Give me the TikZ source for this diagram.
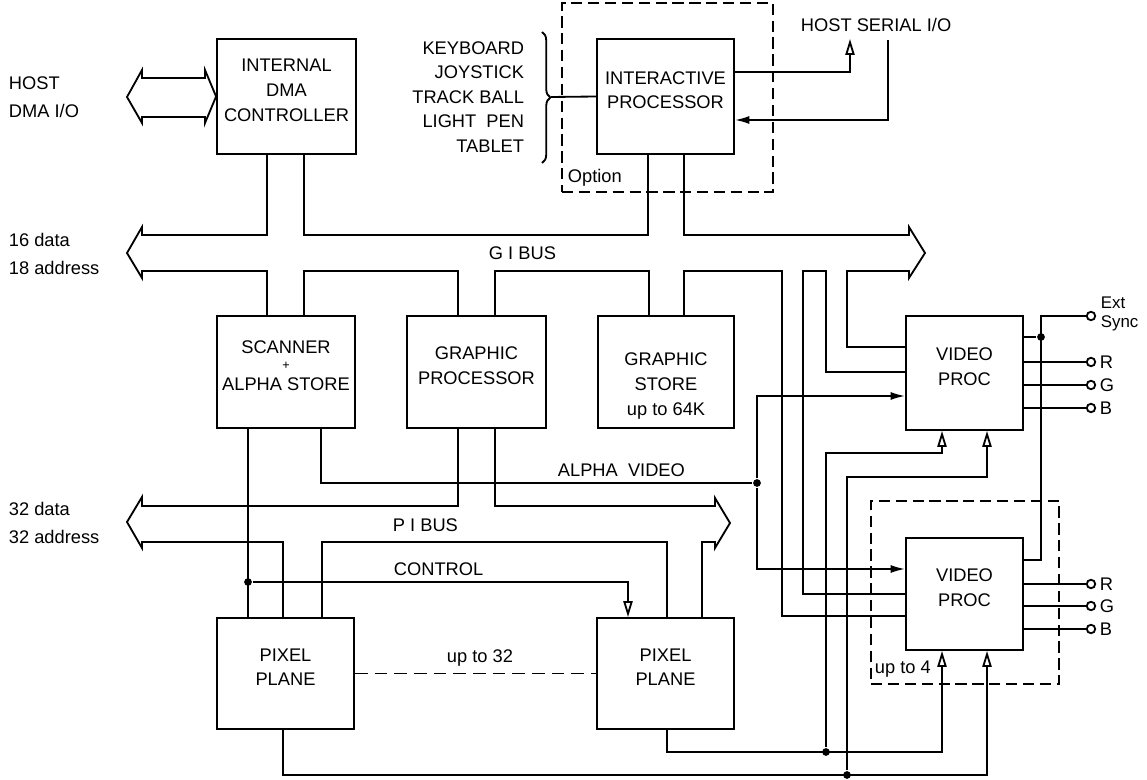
\documentclass[tikz,border=0pt]{standalone}
\usepackage{fontspec}
\setmainfont{Liberation Sans}
\usetikzlibrary{arrows.meta,fit,decorations.pathreplacing}
\begin{document}
\begin{tikzpicture}[x=0.025cm,y=-0.025cm, line width=1.3pt,
  txt/.style={inner sep=0pt, font=\fontsize{13}{17.5}\selectfont},
  box/.style={draw, inner sep=0pt, align=center, txt},
  lbl/.style={txt, align=center},
  dbox/.style={draw, dash pattern=on 8pt off 4pt, inner sep=0pt},
  arr/.style={-{Latex[length=3.6mm,width=2mm]}},
  oarr/.style={-{Triangle[open,length=4mm,width=2.3mm]}},
  dot/.style={circle, fill, inner sep=0pt, minimum size=5.5pt},
  term/.style={circle, draw, inner sep=0pt, minimum size=6pt, fill=white},
  bus/.style={line join=miter}]
\useasboundingbox (0,0) rectangle (1147,780);

% boxes
\node[box, fit={(217,39) (356,154)}] (dma) {INTERNAL\\DMA\\CONTROLLER};
\node[box, fit={(597,39) (734,154)}] (ip) {INTERACTIVE\\PROCESSOR};
\node[box, fit={(217,316) (355,428)}] (scan) {SCANNER\\[-6pt]{\small +}\\[-3pt]ALPHA STORE};
\node[box, fit={(407,316) (546,428)}] (gp) {GRAPHIC\\PROCESSOR};
\node[box, fit={(598,316) (734,428)}] (gs) {};
\node[lbl] (gstxt) at (666,386) {GRAPHIC\\STORE\\up to 64K};
\node[box, fit={(906,316) (1023,430)}] (vp1) {VIDEO\\PROC};
\node[box, fit={(906,538) (1023,650)}] (vp2) {VIDEO\\PROC};
\node[box, fit={(217,618) (354,729)}] (pp1) {PIXEL\\PLANE};
\node[box, fit={(597,618) (734,729)}] (pp2) {PIXEL\\PLANE};

% dashed option boxes
\node[dbox, fit={(562,3) (773,192)}] (opt) {};
\node[txt, anchor=west] (optl) at (567,178) {Option};
\node[dbox, fit={(871,501) (1059,684)}] (up4) {};
\node[txt, anchor=west] (up4l) at (874,669) {up to 4};

% side texts
\node[txt, anchor=west, align=left, font=\fontsize{13}{20}\selectfont] (hostdma) at (8,97) {HOST\\DMA I/O};
\node[txt, anchor=west, align=left, font=\fontsize{13}{20}\selectfont] (gil) at (8,254) {16 data\\18 address};
\node[txt, anchor=west, align=left, font=\fontsize{13}{20}\selectfont] (pil) at (8,523) {32 data\\32 address};
\node[txt, anchor=east, align=right] (kb) at (525,97) {KEYBOARD\\JOYSTICK\\TRACK BALL\\LIGHT~~PEN\\TABLET};
\node[txt, anchor=west] (hsio) at (800,25) {HOST SERIAL I/O};
\node[txt, anchor=west] (gibus) at (488,253) {G I BUS};
\node[txt, anchor=west] (pibus) at (392,525) {P I BUS};
\node[txt, anchor=west] (ctl) at (393,569) {CONTROL};
\node[txt, anchor=west] (av) at (557,470) {ALPHA~~VIDEO};
\node[txt] (up32) at (480,658) {up to 32};

% host DMA double arrow
\draw[bus] (142,78) -- (205,78) -- (205,70) -- (dma.west) -- (205,123) -- (205,117)
  -- (142,117) -- (142,123) -- (127,97) -- (142,70) -- cycle;

% GI bus
\draw[bus] (dma.south -| 267,0) -- (267,235) -- (142,235) -- (142,227) -- (127,253)
  -- (142,278) -- (142,271) -- (267,271) -- (scan.north -| 267,0);
\draw[bus] (dma.south -| 304,0) -- (304,235) -- (648,235) -- (ip.south -| 648,0);
\draw[bus] (ip.south -| 684,0) -- (684,235) -- (909,235) -- (909,227) -- (925,253)
  -- (909,278) -- (909,271) -- (847,271) -- (847,347) -- (vp1.west |- 0,347);
\draw[bus] (scan.north -| 304,0) -- (304,271) -- (458,271) -- (gp.north -| 458,0);
\draw[bus] (gp.north -| 495,0) -- (495,271) -- (649,271) -- (gs.north -| 649,0);
\draw[bus] (gs.north -| 684,0) -- (684,271) -- (782,271) -- (782,616) -- (vp2.west |- 0,616);
\draw[bus] (vp2.west |- 0,594) -- (803,594) -- (803,271) -- (826,271) -- (826,372) -- (vp1.west |- 0,372);

% PI bus
\draw[bus] (gp.south -| 458,0) -- (458,506) -- (142,506) -- (142,497) -- (127,522)
  -- (142,548) -- (142,542) -- (283,542) -- (pp1.north -| 283,0);
\draw[bus] (pp1.north -| 322,0) -- (322,542) -- (667,542) -- (pp2.north -| 667,0);
\draw[bus] (gp.south -| 495,0) -- (495,506) -- (715,506) -- (715,498) -- (730,523)
  -- (715,548) -- (715,542) -- (702,542) -- (pp2.north -| 702,0);

% control
\draw (scan.south -| 248,0) -- (pp1.north -| 248,0);
\node[dot] (jc) at (248,582) {};
\draw[oarr] (jc) -- (628,582) -- (pp2.north -| 628,0);

% pixel plane chain
\draw[dash pattern=on 9pt off 5pt] (pp1.east) -- (pp2.west);

% alpha video
\node[dot] (ja) at (757,483) {};
\draw (scan.south -| 321,0) -- (321,483) -- (ja);
\draw[arr] (ja) -- (757,396) -- (vp1.west |- 0,396);
\draw[arr] (ja) -- (757,569) -- (vp2.west |- 0,569);

% pixel plane outputs
\node[dot] (jb1) at (826,752) {};
\node[dot] (jb2) at (847,775) {};
\draw[oarr] (pp2.south -| 667,0) -- (667,752) -- (942,752) -- (vp2.south -| 942,0);
\draw[oarr] (jb1) -- (826,453) -- (942,453) -- (vp1.south -| 942,0);
\draw[oarr] (pp1.south -| 283,0) -- (283,775) -- (987,775) -- (vp2.south -| 987,0);
\draw[oarr] (jb2) -- (847,477) -- (987,477) -- (vp1.south -| 987,0);

% interactive processor links
\draw[decorate, decoration={brace, amplitude=6pt}] (542,32) -- (542,163);
\coordinate (bt) at (551,97);
\draw (bt) -- (ip.west);
\draw[oarr] (ip.east |- 0,72) -- (850,72) -- (850,39);
\coordinate (hsin) at (888,40);
\draw[arr] (hsin) -- (888,120) -- (ip.east |- 0,120);

% outputs
\node[term] (tes) at (1091,316) {};
\node[term] (tr1) at (1091,362) {};
\node[term] (tg1) at (1091,385) {};
\node[term] (tb1) at (1091,408) {};
\node[term] (tr2) at (1091,584) {};
\node[term] (tg2) at (1091,606) {};
\node[term] (tb2) at (1091,629) {};
\node[dot] (jes) at (1041,337) {};
\draw (vp1.east |- 0,337) -- (jes);
\draw (vp2.east |- 0,560) -- (1041,560) -- (1041,316) -- (tes);
\draw (vp1.east |- 0,362) -- (tr1);
\draw (vp1.east |- 0,385) -- (tg1);
\draw (vp1.east |- 0,408) -- (tb1);
\draw (vp2.east |- 0,584) -- (tr2);
\draw (vp2.east |- 0,606) -- (tg2);
\draw (vp2.east |- 0,629) -- (tb2);
\node[txt, anchor=west, align=left, font=\fontsize{12}{13.5}\selectfont] (esl) at (1100,314) {Ext\\Sync};
\node[txt, anchor=west] (rl1) at (1099,362) {R};
\node[txt, anchor=west] (gl1) at (1099,385) {G};
\node[txt, anchor=west] (bl1) at (1099,408) {B};
\node[txt, anchor=west] (rl2) at (1099,584) {R};
\node[txt, anchor=west] (gl2) at (1099,606) {G};
\node[txt, anchor=west] (bl2) at (1099,629) {B};
\end{tikzpicture}
\end{document}
